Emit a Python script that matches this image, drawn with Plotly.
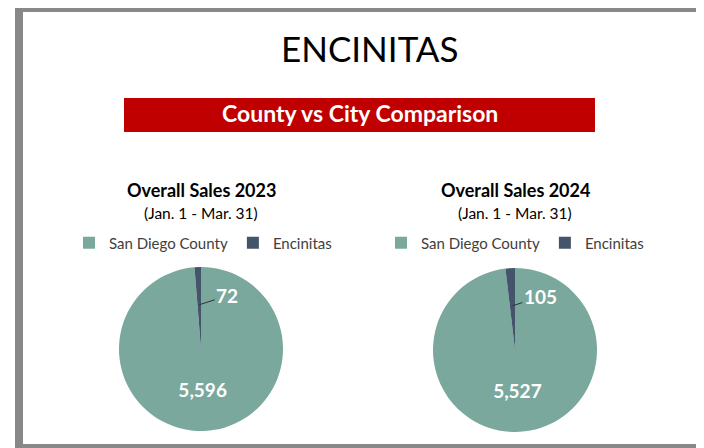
import math
from plotly import graph_objs as go

W, H = 704, 448
OFF = 8  # margen del body de la página

# Data
labels = ["San Diego County", "Encinitas"]
sales_2023 = [5596, 72]
sales_2024 = [5527, 105]
years = ["2023", "2024"]
period = "(Jan. 1 - Mar. 31)"

colores = ["#7BA89D", "#44546A"]
fuente = "Lato"


def px(x):
    return (x - OFF) / W


def py(y):
    return 1 - (y - OFF) / H


def etiqueta_chica(valores, cx, cy, r, ax, ay):
    # punto medio del sector pequeño (va al final, sentido horario desde arriba)
    total = sum(valores)
    frac = valores[1] / total
    ang = math.radians(360 * (1 - frac / 2))
    xp = cx + 0.54 * r * math.sin(ang)
    yp = cy - 0.54 * r * math.cos(ang)
    return dict(
        x=px(xp), y=py(yp), xref="paper", yref="paper",
        text=f"<b>{valores[1]:,}</b>", showarrow=True, arrowhead=0,
        arrowwidth=1, arrowcolor="#333333", ax=ax, ay=ay,
        font={"family": fuente, "size": 19, "color": "white"},
    )


def texto(x, y, t, size, color="black"):
    return dict(
        x=px(x), y=py(y), xref="paper", yref="paper", showarrow=False,
        xanchor="center", yanchor="middle", text=t,
        font={"family": fuente, "size": size, "color": color},
    )


pies = [
    {"vals": sales_2023, "cx": 201, "cy": 349, "legend": "legend"},
    {"vals": sales_2024, "cx": 515, "cy": 350, "legend": "legend2"},
]
R = 82

fig = go.Figure()
annotations = []

for i, p in enumerate(pies):
    cx, cy = p["cx"], p["cy"]
    fig.add_trace(
        go.Pie(
            labels=labels,
            values=p["vals"],
            sort=False,
            direction="clockwise",
            rotation=0,
            marker={"colors": colores},
            texttemplate=[f"<b>{p['vals'][0]:,}</b>", ""],
            textposition="inside",
            insidetextorientation="horizontal",
            insidetextfont={"family": fuente, "size": 19, "color": "white"},
            domain={"x": [px(cx - R), px(cx + R)], "y": [py(cy + R), py(cy - R)]},
            legend=p["legend"],
            legendgroup=years[i],
            showlegend=True,
            hoverinfo="label+value",
        )
    )
    annotations.append(etiqueta_chica(p["vals"], cx, cy, R, 28, -9))
    annotations.append(texto(cx, 190, f"<b>Overall Sales {years[i]}</b>", 18))
    annotations.append(texto(cx, 213, period, 15.5))

annotations.append(texto(370, 48, "ENCINITAS", 35))
annotations.append(texto(360, 113, "<b>County vs City Comparison</b>", 23, "white"))

shapes = [
    dict(type="rect", xref="paper", yref="paper",
         x0=px(19), x1=px(700), y0=py(448), y1=py(8),
         line={"color": "#888888", "width": 8}, layer="below"),
    dict(type="rect", xref="paper", yref="paper",
         x0=px(124), x1=px(595), y0=py(132), y1=py(98),
         fillcolor="#C00000", line={"width": 0}, layer="below"),
]

leyenda = {
    "orientation": "h", "xanchor": "center", "yanchor": "middle",
    "traceorder": "normal",
    "font": {"family": fuente, "size": 15, "color": "#404040"},
    "bgcolor": "rgba(0,0,0,0)",
}

fig.update_layout(
    width=W, height=H,
    margin={"l": 0, "r": 0, "t": 0, "b": 0},
    paper_bgcolor="white",
    plot_bgcolor="white",
    annotations=annotations,
    shapes=shapes,
    legend={**leyenda, "x": px(203), "y": py(243)},
    legend2={**leyenda, "x": px(515), "y": py(243)},
)

fig.write_html("out.html")
